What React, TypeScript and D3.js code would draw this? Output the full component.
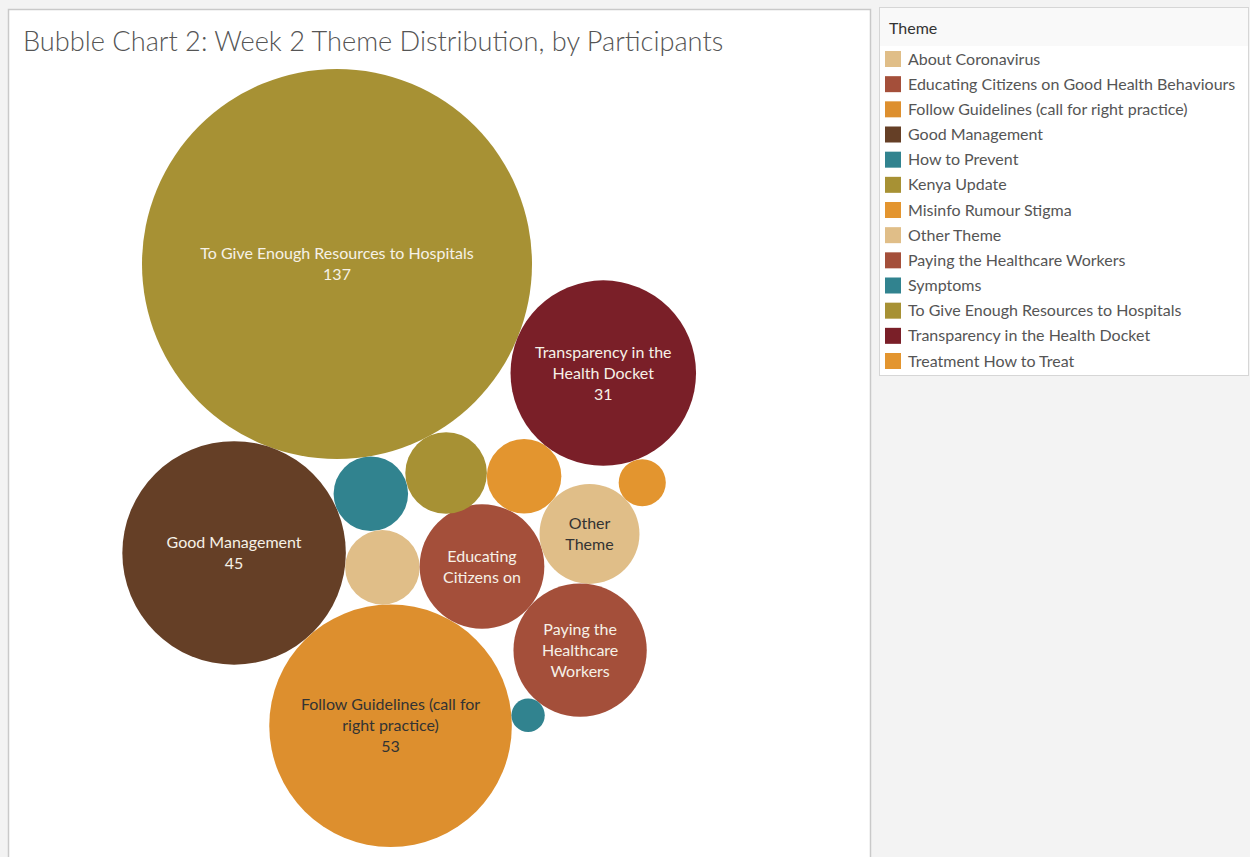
import React from "react";
import * as d3 from "d3";

// ---------- data ----------
const themes: string[] = [
  "About Coronavirus",
  "Educating Citizens on Good Health Behaviours",
  "Follow Guidelines (call for right practice)",
  "Good Management",
  "How to Prevent",
  "Kenya Update",
  "Misinfo Rumour Stigma",
  "Other Theme",
  "Paying the Healthcare Workers",
  "Symptoms",
  "To Give Enough Resources to Hospitals",
  "Transparency in the Health Docket",
  "Treatment How to Treat",
];
const participants: number[] = [5, 14, 53, 45, 5, 6, 5, 9, 16, 1, 137, 31, 2];
const themeColors: string[] = [
  "#e0be88",
  "#a44f3a",
  "#dd8f2e",
  "#653f26",
  "#31838f",
  "#a79134",
  "#e3952f",
  "#e0be88",
  "#a44f3a",
  "#31838f",
  "#a79134",
  "#7a1f28",
  "#e3952f",
];
// label text as shown inside bubbles (Tableau wraps / truncates)
const bubbleLabels: Record<string, string[]> = {
  "To Give Enough Resources to Hospitals": ["To Give Enough Resources to Hospitals", "137"],
  "Transparency in the Health Docket": ["Transparency in the", "Health Docket", "31"],
  "Good Management": ["Good Management", "45"],
  "Follow Guidelines (call for right practice)": ["Follow Guidelines (call for", "right practice)", "53"],
  "Educating Citizens on Good Health Behaviours": ["Educating", "Citizens on"],
  "Other Theme": ["Other", "Theme"],
  "Paying the Healthcare Workers": ["Paying the", "Healthcare", "Workers"],
};

// packing topology: each bubble is placed tangent to two earlier bubbles
const packOrder: string[] = [
  "To Give Enough Resources to Hospitals",
  "Good Management",
  "How to Prevent",
  "About Coronavirus",
  "Follow Guidelines (call for right practice)",
  "Educating Citizens on Good Health Behaviours",
  "Kenya Update",
  "Misinfo Rumour Stigma",
  "Other Theme",
  "Paying the Healthcare Workers",
  "Transparency in the Health Docket",
  "Treatment How to Treat",
  "Symptoms",
];
const tangentTo: [string, string][] = [
  ["", ""],
  ["", ""],
  ["To Give Enough Resources to Hospitals", "Good Management"],
  ["How to Prevent", "Good Management"],
  ["About Coronavirus", "Good Management"],
  ["About Coronavirus", "Follow Guidelines (call for right practice)"],
  ["To Give Enough Resources to Hospitals", "How to Prevent"],
  ["Kenya Update", "Educating Citizens on Good Health Behaviours"],
  ["Misinfo Rumour Stigma", "Educating Citizens on Good Health Behaviours"],
  ["Other Theme", "Educating Citizens on Good Health Behaviours"],
  ["To Give Enough Resources to Hospitals", "Misinfo Rumour Stigma"],
  ["Transparency in the Health Docket", "Other Theme"],
  ["Paying the Healthcare Workers", "Follow Guidelines (call for right practice)"],
];
const secondBubbleAngleDeg = 109.6;

const title = "Bubble Chart 2: Week 2 Theme Distribution, by Participants";
const legendTitle = "Theme";

// ---------- layout ----------
const W = 1250;
const H = 857;
const FONT = "Lato, 'Open Sans', sans-serif";

const rScale = d3.scaleSqrt().domain([0, d3.max(participants) as number]).range([0, 195]);

type Node = { name: string; value: number; color: string; r: number; x: number; y: number };

function computeLayout(): Node[] {
  const placed = new Map<string, Node>();
  packOrder.forEach((name, i) => {
    const idx = themes.indexOf(name);
    const node: Node = {
      name,
      value: participants[idx],
      color: themeColors[idx],
      r: rScale(participants[idx]),
      x: 0,
      y: 0,
    };
    if (i === 1) {
      const first = placed.get(packOrder[0])!;
      const a = (secondBubbleAngleDeg * Math.PI) / 180;
      const d = first.r + node.r;
      node.x = first.x + d * Math.cos(a);
      node.y = first.y + d * Math.sin(a);
    } else if (i > 1) {
      const j = placed.get(tangentTo[i][0])!;
      const k = placed.get(tangentTo[i][1])!;
      const dx = k.x - j.x;
      const dy = k.y - j.y;
      const d = Math.hypot(dx, dy);
      const dj = j.r + node.r;
      const dk = k.r + node.r;
      const a = (dj * dj - dk * dk + d * d) / (2 * d);
      const h = Math.sqrt(Math.max(0, dj * dj - a * a));
      const ux = dx / d;
      const uy = dy / d;
      node.x = j.x + a * ux + h * uy;
      node.y = j.y + a * uy - h * ux;
    }
    placed.set(name, node);
  });
  return packOrder.map((n) => placed.get(n)!);
}

function textColor(c: string): string {
  return d3.lab(c).l > 63 ? "#333333" : "#f6f1e7";
}

export default function App() {
  const nodes = computeLayout();
  const first = nodes[0];
  const xPos = d3.scaleLinear().domain([first.x, first.x + 1]).range([337, 338]);
  const yPos = d3.scaleLinear().domain([first.y, first.y + 1]).range([264, 265]);

  const legendY = d3.scaleLinear().domain([0, themes.length - 1]).range([59, 361]);
  const lineH = 21;

  return (
    <div style={{ position: "absolute", left: 0, top: 0, width: W, height: H, overflow: "hidden" }}>
      <svg width={W} height={H} style={{ display: "block", fontFamily: FONT }}>
        <rect x={0} y={0} width={W} height={H} fill="#f3f3f3" />
        <rect x={8.5} y={9.5} width={862} height={900} fill="#ffffff" stroke="#c9c9c9" strokeWidth={1.5} />
        <text x={23} y={51} fontSize={27.2} fill="#555555" fontWeight={300}>
          {title}
        </text>
        <g>
          {nodes.map((n) => (
            <circle key={n.name} cx={xPos(n.x)} cy={yPos(n.y)} r={n.r} fill={n.color} />
          ))}
          {nodes.map((n) => {
            const lines = bubbleLabels[n.name];
            if (!lines) return null;
            const cx = xPos(n.x);
            const cy = yPos(n.y);
            const y0 = cy - ((lines.length - 1) * lineH) / 2;
            return (
              <g key={n.name + "-lbl"}>
                {lines.map((l, i) => (
                  <text
                    key={i}
                    x={cx}
                    y={y0 + i * lineH}
                    dy="0.35em"
                    textAnchor="middle"
                    fontSize={16}
                    fill={textColor(n.color)}
                  >
                    {l}
                  </text>
                ))}
              </g>
            );
          })}
        </g>
        {/* legend */}
        <rect x={879.5} y={7.5} width={369} height={368} fill="#ffffff" stroke="#d6d6d6" />
        <rect x={880} y={8} width={368} height={38} fill="#f9f9f9" />
        <text x={889} y={28} dy="0.35em" fontSize={16} fill="#333333">
          {legendTitle}
        </text>
        {themes.map((t, i) => (
          <g key={t}>
            <rect x={885} y={legendY(i) - 8} width={16} height={16} fill={themeColors[i]} />
            <text x={908} y={legendY(i)} dy="0.35em" fontSize={16} fill="#555555">
              {t}
            </text>
          </g>
        ))}
      </svg>
    </div>
  );
}
